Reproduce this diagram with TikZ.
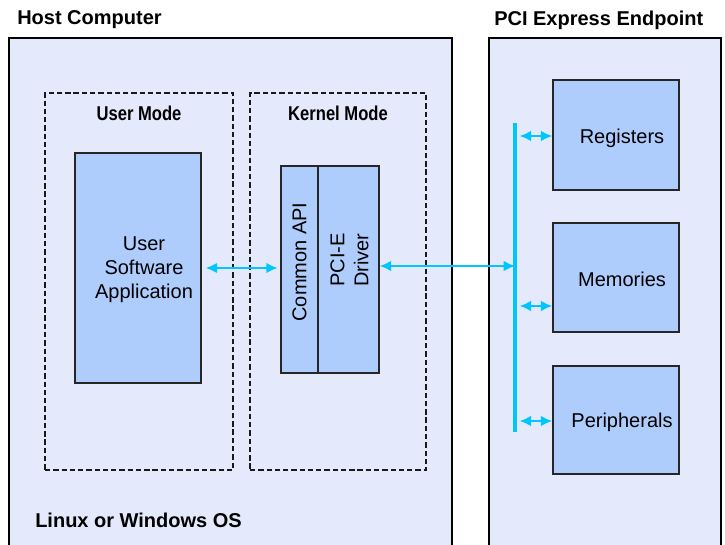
\documentclass[tikz,border=0pt]{standalone}
\usepackage{fontspec}
\setmainfont{Liberation Sans}
\newfontfamily\narrowfont{Liberation Sans}[FakeStretch=0.83]
\usetikzlibrary{arrows.meta,calc}
\definecolor{bgc}{RGB}{228,233,252}
\definecolor{blkc}{RGB}{174,205,252}
\definecolor{busc}{RGB}{0,198,255}
\begin{document}
\begin{tikzpicture}[x=0.75pt,y=-0.75pt,
  panel/.style={draw=black, line width=1.5pt, fill=bgc, inner sep=0pt},
  modebox/.style={draw=black!90, line width=1.1pt, dash pattern=on 4pt off 2.2pt, inner sep=0pt},
  blk/.style={draw=black!85, line width=1.1pt, fill=blkc, inner sep=0pt},
  txt/.style={font=\fontsize{15}{18}\selectfont, align=center, inner sep=0pt},
  title/.style={font=\fontsize{15}{18}\selectfont\bfseries, inner sep=0pt},
  modetitle/.style={font=\fontsize{15}{18}\selectfont\narrowfont\bfseries, inner sep=0pt},
  link/.style={draw=busc, line width=1.5pt, {Latex[length=8.5pt,width=8pt]}-{Latex[length=8.5pt,width=8pt]}},
  bus/.style={draw=busc, line width=2.8pt}]
\useasboundingbox (0,0) rectangle (725,545);
\clip (0,0) rectangle (725,545);
\fill[white] (0,0) rectangle (725,545);

% panels
\node[panel, minimum width=332.25pt, minimum height=391.5pt] (host) at (230.5,299) {};
\node[panel, minimum width=174pt, minimum height=391.5pt] (ep) at (605,299) {};
\node[title, anchor=west] (hosttitle) at (17,20) {Host Computer};
\node[title, anchor=west] (eptitle) at (494,20) {PCI Express Endpoint};
\node[title, anchor=west] (ostitle) at (35,520) {Linux or Windows OS};

% mode boxes
\node[modebox, minimum width=141pt, minimum height=282.75pt] (umode) at (139,281.5) {};
\node[modebox, minimum width=132pt, minimum height=282.75pt] (kmode) at (338,281.5) {};
\node[modetitle] (umodet) at (139,113) {User Mode};
\node[modetitle] (kmodet) at (338,113) {Kernel Mode};

% host blocks
\node[blk, minimum width=94.5pt, minimum height=172.5pt] (app) at (138,268) {};
\node[txt] (appt) at (144,270) {User\\Software\\Application};
\node[blk, minimum width=27.75pt, minimum height=155.25pt] (capi) at (299.5,269.5) {};
\node[blk, minimum width=45.75pt, minimum height=155.25pt] (drv) at (348.5,269.5) {};
\node[txt, rotate=90] (capit) at (299.5,262) {Common API};
\node[txt, rotate=90] (drvt) at (349.5,260) {PCI-E\\Driver};

% endpoint blocks
\node[blk, minimum width=94.5pt, minimum height=82.5pt] (reg) at (616,135) {};
\node[blk, minimum width=94.5pt, minimum height=81.75pt] (mem) at (616,277.5) {};
\node[blk, minimum width=94.5pt, minimum height=81pt] (per) at (616,420) {};
\node[txt] (regt) at (622,138) {Registers};
\node[txt] (memt) at (622,279) {Memories};
\node[txt] (pert) at (622,422) {Peripherals};

% bus
\coordinate (busT) at (515,123);
\coordinate (busB) at (515,432);
\draw[bus] (busT) -- (busB);

% connectors
\draw[link, shorten <=3pt, shorten >=2pt] (app.east) -- (app.east -| capi.west);
\coordinate (drvA) at ($(drv.east)+(0,-3.5)$);
\draw[link] (drvA) -- (drvA -| busT);
\coordinate (regA) at ($(reg.west)+(0,1)$);
\coordinate (memA) at ($(mem.west)+(0,28.5)$);
\coordinate (perA) at ($(per.west)+(0,1)$);
\draw[link] ([xshift=3.5pt]regA -| busT) -- (regA);
\draw[link] ([xshift=3.5pt]memA -| busT) -- (memA);
\draw[link] ([xshift=3.5pt]perA -| busT) -- (perA);
\end{tikzpicture}
\end{document}
